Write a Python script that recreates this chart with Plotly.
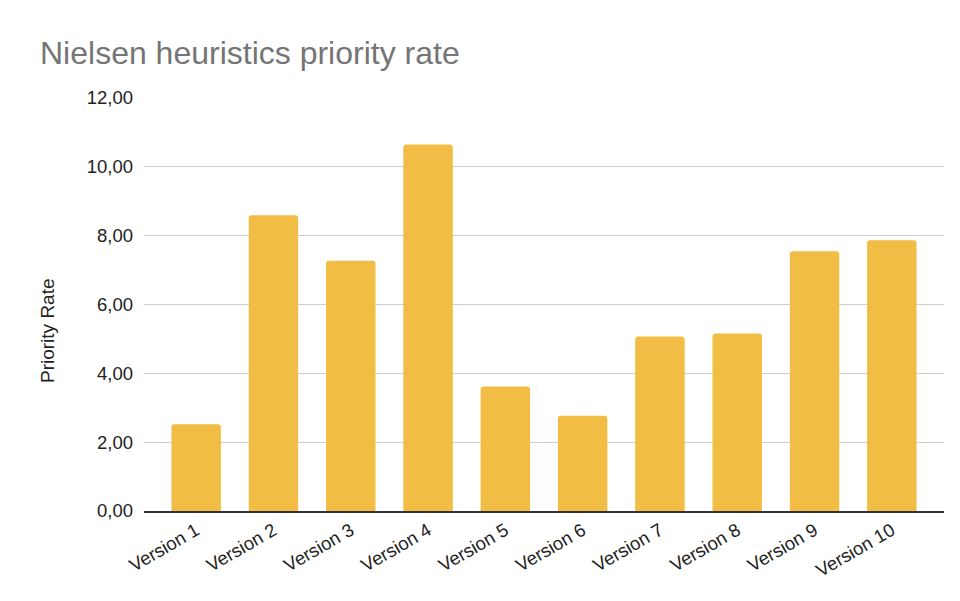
import plotly.graph_objects as go

versions = ["Version 1", "Version 2", "Version 3", "Version 4", "Version 5",
            "Version 6", "Version 7", "Version 8", "Version 9", "Version 10"]
priority_rate = [2.52, 8.59, 7.27, 10.65, 3.62, 2.77, 5.07, 5.16, 7.55, 7.87]
y_ticks = [0, 2, 4, 6, 8, 10, 12]
y_tick_labels = ["0,00", "2,00", "4,00", "6,00", "8,00", "10,00", "12,00"]

FONT = "Arial, 'Liberation Sans', sans-serif"

W, H = 960, 601
M_L, M_R, M_T, M_B = 144, 16, 98, 90
plot_w = W - M_L - M_R
plot_h = H - M_T - M_B

fig = go.Figure(
    go.Bar(
        x=versions,
        y=priority_rate,
        marker=dict(color="#F1BD45", line=dict(width=0)),
    )
)

fig.update_layout(
    width=W,
    height=H,
    paper_bgcolor="white",
    plot_bgcolor="white",
    margin=dict(l=M_L, r=M_R, t=M_T, b=M_B),
    bargap=0.36,
    barcornerradius=3,
    showlegend=False,
    font=dict(family=FONT, size=18, color="#222222"),
    title=dict(
        text="Nielsen heuristics priority rate",
        font=dict(family=FONT, size=32, color="#757575"),
        x=40 / W,
        xanchor="left",
        y=1 - 64 / H,
        yanchor="bottom",
        pad=dict(b=0),
    ),
)

# vertical axis title, placed as an annotation so it can sit below the plot centre
fig.add_annotation(
    text="Priority Rate",
    textangle=-90,
    xref="paper",
    yref="paper",
    x=(47 - M_L) / plot_w,
    y=(H - M_B - 331) / plot_h,
    xanchor="center",
    yanchor="middle",
    showarrow=False,
    font=dict(family=FONT, size=19, color="#222222"),
)

fig.update_xaxes(
    range=[-0.675, 9.675],
    tickangle=-30,
    showgrid=False,
    showline=True,
    linecolor="#333333",
    linewidth=1.5,
    ticks="",
    tickfont=dict(family=FONT, size=18.5, color="#222222"),
)

fig.update_yaxes(
    range=[0, 12],
    tickvals=y_ticks,
    ticktext=y_tick_labels,
    showgrid=True,
    gridcolor="#CCCCCC",
    gridwidth=1,
    zeroline=False,
    showline=False,
    ticks="",
    ticklabelstandoff=10,
    tickfont=dict(family=FONT, size=18.5, color="#222222"),
)

fig.write_html("out.html")
